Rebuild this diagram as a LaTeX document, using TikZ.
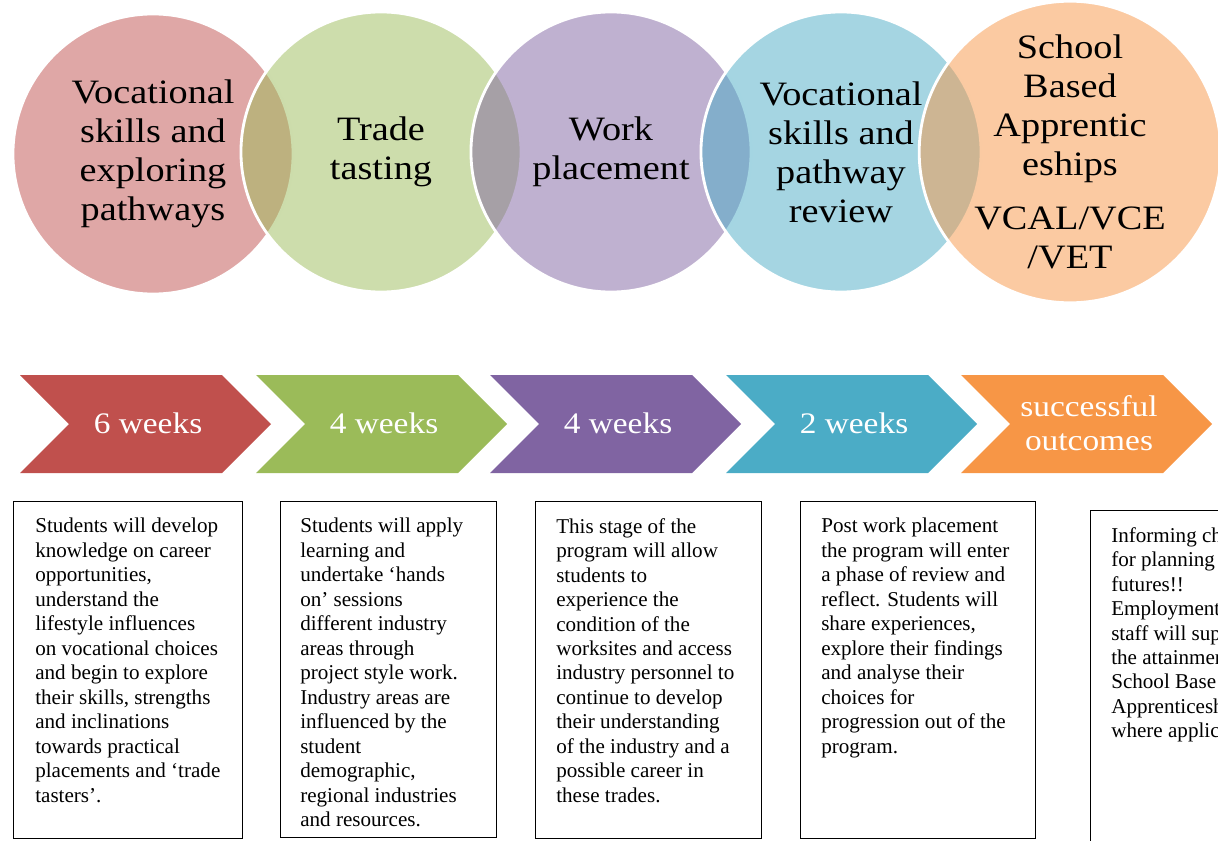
\documentclass[tikz,border=0pt]{standalone}
\usepackage{fontspec}
\setmainfont{Liberation Serif}
\newfontfamily\stagefont[FakeStretch=1.12]{Liberation Serif}
\definecolor{ored}{HTML}{C0504D}
\definecolor{ogreen}{HTML}{9BBB59}
\definecolor{opurple}{HTML}{8064A2}
\definecolor{oaqua}{HTML}{4BACC6}
\definecolor{oorange}{HTML}{F79646}

\begin{document}
\begin{tikzpicture}[x=0.025cm,y=-0.025cm,
  stage node/.style={circle,minimum size=7cm,inner sep=0pt,draw=white,line width=2pt,
    fill opacity=0.5,text opacity=1,align=center,font=\stagefont\fontsize{24.3}{27.7}\selectfont},
  week node/.style={text=white,align=center,font=\stagefont\fontsize{21.2}{24.2}\selectfont},
  box node/.style={draw,line width=0.7pt,anchor=north west,inner sep=0pt},
  info node/.style={anchor=north west,inner sep=0pt,align=left,font=\fontsize{15}{17.4}\selectfont}]

  \useasboundingbox (0,0) rectangle (1218,841);
  \clip (0,0) rectangle (1218,841);

  % stages
  \node[stage node,fill=ored] (s1) at (153,154) {Vocational\\skills and\\exploring\\pathways};
  \node[stage node,fill=ogreen] (s2) at (381,152) {Trade\\tasting};
  \node[stage node,fill=opurple] (s3) at (611,152) {Work\\placement};
  \node[stage node,fill=oaqua] (s4) at (841,152) {Vocational\\skills and\\pathway\\review};
  \node[stage node,fill=oorange] (s5) at (1070,152) {School\\Based\\Apprentic\\eships\\[11pt]VCAL/VCE\\/VET};

  % chevrons
  \foreach \x/\col/\lab/\nm in {20/ored/6 weeks/w1, 256/ogreen/4 weeks/w2,
      490/opurple/4 weeks/w3, 726/oaqua/2 weeks/w4, 961/oorange/successful\\outcomes/w5} {
    \fill[\col] (\x,375) -- ++(202,0) -- ++(49,49) -- ++(-49,49) -- ++(-202,0) -- ++(49,-49) -- cycle;
    \node[week node] (\nm) at (\x+128,423) {\lab};
  }

  % boxes
  \node[box node,minimum width=5.725cm,minimum height=8.425cm] (b1) at (13,501) {};
  \node[box node,minimum width=5.4cm,minimum height=8.4cm] (b2) at (280,501) {};
  \node[box node,minimum width=5.65cm,minimum height=8.425cm] (b3) at (535,501) {};
  \node[box node,minimum width=5.875cm,minimum height=8.425cm] (b4) at (800,501) {};
  \node[box node,minimum width=3.75cm,minimum height=8.75cm] (b5) at (1090,510) {};

  \node[info node] (t1) at (35,518) {Students will develop\\knowledge on career\\opportunities,\\understand the\\lifestyle influences\\on vocational choices\\and begin to explore\\their skills, strengths\\and inclinations\\towards practical\\placements and `trade\\tasters'.};
  \node[info node] (t2) at (300,518) {Students will apply\\learning and\\undertake `hands\\on' sessions\\different industry\\areas through\\project style work.\\Industry areas are\\influenced by the\\student\\demographic,\\regional industries\\and resources.};
  \node[info node] (t3) at (556,518) {This stage of the\\program will allow\\students to\\experience the\\condition of the\\worksites and access\\industry personnel to\\continue to develop\\their understanding\\of the industry and a\\possible career in\\these trades.};
  \node[info node] (t4) at (821,518) {Post work placement\\the program will enter\\a phase of review and\\reflect. Students will\\share experiences,\\explore their findings\\and analyse their\\choices for\\progression out of the\\program.};
  \node[info node] (t5) at (1111,527) {Informing ch\\for planning\\futures!!\\Employment\\staff will sup\\the attainmen\\School Base\\Apprenticesh\\where applic};

\end{tikzpicture}
\end{document}
